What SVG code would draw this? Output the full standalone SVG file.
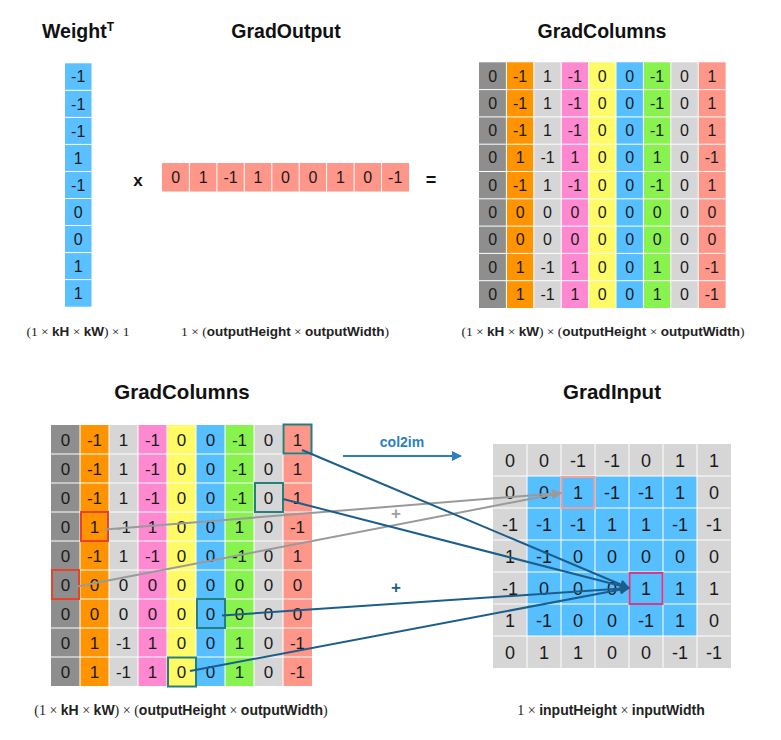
<svg xmlns="http://www.w3.org/2000/svg" width="781" height="740" viewBox="0 0 781 740">
<defs>
<style>
.ttl{font-family:"Liberation Sans",Arial,sans-serif;font-weight:bold;fill:#111;text-anchor:middle}
.n{font-family:"Liberation Sans",Arial,sans-serif;fill:#1a1a1a;text-anchor:middle}
.n16{font-size:16px}
.n17{font-size:17px}
.n18{font-size:18px}
.sep{stroke:#fff;stroke-width:1}
.fm{font-family:"Liberation Serif","Times New Roman",serif;fill:#222;text-anchor:middle}
.fb{font-family:"Liberation Sans",Arial,sans-serif;font-weight:bold}
.teal{fill:none;stroke:#24807c;stroke-width:2}
.red{fill:none;stroke:#e8412c;stroke-width:2}
.bl{stroke:#1b5e8c;stroke-width:2;fill:none}
.gr{stroke:#9a9a9a;stroke-width:2;fill:none}
</style>
<marker id="ab" viewBox="0 0 10 10" refX="9" refY="5" markerWidth="5" markerHeight="5" orient="auto"><path d="M0,0 L10,5 L0,10 z" fill="#1b5e8c"/></marker>
<marker id="ag" viewBox="0 0 10 10" refX="9" refY="5" markerWidth="5" markerHeight="5" orient="auto"><path d="M0,0 L10,5 L0,10 z" fill="#9a9a9a"/></marker>
<marker id="ac" viewBox="0 0 10 10" refX="9" refY="5" markerWidth="5" markerHeight="5" orient="auto"><path d="M0,0 L10,5 L0,10 z" fill="#2b7fc1"/></marker>
</defs>
<rect width="781" height="740" fill="#fff"/>

<!-- Weight^T -->
<g id="weight">
<text class="ttl" x="78" y="38" font-size="19.5">Weight<tspan font-size="12" dy="-7">T</tspan></text>
<rect x="65" y="63.3" width="26.5" height="243.4" fill="#5ac0ff"/>
<g class="sep">
<line x1="65" y1="90.3" x2="91.5" y2="90.3"/><line x1="65" y1="117.4" x2="91.5" y2="117.4"/><line x1="65" y1="144.4" x2="91.5" y2="144.4"/><line x1="65" y1="171.5" x2="91.5" y2="171.5"/><line x1="65" y1="198.5" x2="91.5" y2="198.5"/><line x1="65" y1="225.5" x2="91.5" y2="225.5"/><line x1="65" y1="252.6" x2="91.5" y2="252.6"/><line x1="65" y1="279.6" x2="91.5" y2="279.6"/>
</g>
<g class="n n16">
<text x="78.2" y="82.4">-1</text><text x="78.2" y="109.5">-1</text><text x="78.2" y="136.5">-1</text><text x="78.2" y="163.5">1</text><text x="78.2" y="190.6">-1</text><text x="78.2" y="217.6">0</text><text x="78.2" y="244.7">0</text><text x="78.2" y="271.7">1</text><text x="78.2" y="298.8">1</text>
</g>
<text class="fm" x="78" y="336" font-size="13.5">(1 × <tspan class="fb">kH</tspan> × <tspan class="fb">kW</tspan>) × 1</text>
</g>

<text class="ttl" x="138" y="186" font-size="17">x</text>

<!-- GradOutput -->
<g id="gradoutput">
<text class="ttl" x="286" y="38" font-size="19.5">GradOutput</text>
<rect x="162" y="163" width="247" height="28.5" fill="#ff968a"/>
<g class="sep">
<line x1="189.4" y1="163" x2="189.4" y2="191.5"/><line x1="216.9" y1="163" x2="216.9" y2="191.5"/><line x1="244.3" y1="163" x2="244.3" y2="191.5"/><line x1="271.8" y1="163" x2="271.8" y2="191.5"/><line x1="299.2" y1="163" x2="299.2" y2="191.5"/><line x1="326.6" y1="163" x2="326.6" y2="191.5"/><line x1="354.1" y1="163" x2="354.1" y2="191.5"/><line x1="381.5" y1="163" x2="381.5" y2="191.5"/>
</g>
<text class="n n16" y="183"><tspan x="175.7">0</tspan><tspan x="203.2">1</tspan><tspan x="230.6">-1</tspan><tspan x="258">1</tspan><tspan x="285.5">0</tspan><tspan x="312.9">0</tspan><tspan x="340.4">1</tspan><tspan x="367.8">0</tspan><tspan x="395.2">-1</tspan></text>
<text class="fm" x="285" y="336" font-size="13.5">1 × (<tspan class="fb">outputHeight</tspan> × <tspan class="fb">outputWidth</tspan>)</text>
</g>

<text class="ttl" x="431" y="186" font-size="18">=</text>

<!-- GradColumns (top) -->
<g id="gradcolumns-top">
<text class="ttl" x="602" y="38" font-size="19.5">GradColumns</text>
<rect x="479" y="62.3" width="27.4" height="245.7" fill="#8e8e8e"/>
<rect x="506.4" y="62.3" width="27.4" height="245.7" fill="#ff9300"/>
<rect x="533.8" y="62.3" width="27.4" height="245.7" fill="#d6d6d6"/>
<rect x="561.2" y="62.3" width="27.4" height="245.7" fill="#ff89d0"/>
<rect x="588.6" y="62.3" width="27.4" height="245.7" fill="#fffb66"/>
<rect x="616" y="62.3" width="27.4" height="245.7" fill="#56bfff"/>
<rect x="643.4" y="62.3" width="27.4" height="245.7" fill="#88f24f"/>
<rect x="670.8" y="62.3" width="27.4" height="245.7" fill="#d6d6d6"/>
<rect x="698.2" y="62.3" width="27.4" height="245.7" fill="#ff968a"/>
<g class="sep">
<line x1="506.4" y1="62.3" x2="506.4" y2="308"/><line x1="533.8" y1="62.3" x2="533.8" y2="308"/><line x1="561.2" y1="62.3" x2="561.2" y2="308"/><line x1="588.6" y1="62.3" x2="588.6" y2="308"/><line x1="616" y1="62.3" x2="616" y2="308"/><line x1="643.4" y1="62.3" x2="643.4" y2="308"/><line x1="670.8" y1="62.3" x2="670.8" y2="308"/><line x1="698.2" y1="62.3" x2="698.2" y2="308"/>
<line x1="479" y1="89.6" x2="725.6" y2="89.6"/><line x1="479" y1="116.9" x2="725.6" y2="116.9"/><line x1="479" y1="144.2" x2="725.6" y2="144.2"/><line x1="479" y1="171.5" x2="725.6" y2="171.5"/><line x1="479" y1="198.8" x2="725.6" y2="198.8"/><line x1="479" y1="226.1" x2="725.6" y2="226.1"/><line x1="479" y1="253.4" x2="725.6" y2="253.4"/><line x1="479" y1="280.7" x2="725.6" y2="280.7"/>
</g>
<g class="n n16">
<text y="81.5"><tspan x="492.7">0</tspan><tspan x="520.1">-1</tspan><tspan x="547.5">1</tspan><tspan x="574.9">-1</tspan><tspan x="602.3">0</tspan><tspan x="629.7">0</tspan><tspan x="657.1">-1</tspan><tspan x="684.5">0</tspan><tspan x="711.9">1</tspan></text>
<text y="108.8"><tspan x="492.7">0</tspan><tspan x="520.1">-1</tspan><tspan x="547.5">1</tspan><tspan x="574.9">-1</tspan><tspan x="602.3">0</tspan><tspan x="629.7">0</tspan><tspan x="657.1">-1</tspan><tspan x="684.5">0</tspan><tspan x="711.9">1</tspan></text>
<text y="136.1"><tspan x="492.7">0</tspan><tspan x="520.1">-1</tspan><tspan x="547.5">1</tspan><tspan x="574.9">-1</tspan><tspan x="602.3">0</tspan><tspan x="629.7">0</tspan><tspan x="657.1">-1</tspan><tspan x="684.5">0</tspan><tspan x="711.9">1</tspan></text>
<text y="163.4"><tspan x="492.7">0</tspan><tspan x="520.1">1</tspan><tspan x="547.5">-1</tspan><tspan x="574.9">1</tspan><tspan x="602.3">0</tspan><tspan x="629.7">0</tspan><tspan x="657.1">1</tspan><tspan x="684.5">0</tspan><tspan x="711.9">-1</tspan></text>
<text y="190.7"><tspan x="492.7">0</tspan><tspan x="520.1">-1</tspan><tspan x="547.5">1</tspan><tspan x="574.9">-1</tspan><tspan x="602.3">0</tspan><tspan x="629.7">0</tspan><tspan x="657.1">-1</tspan><tspan x="684.5">0</tspan><tspan x="711.9">1</tspan></text>
<text y="218"><tspan x="492.7">0</tspan><tspan x="520.1">0</tspan><tspan x="547.5">0</tspan><tspan x="574.9">0</tspan><tspan x="602.3">0</tspan><tspan x="629.7">0</tspan><tspan x="657.1">0</tspan><tspan x="684.5">0</tspan><tspan x="711.9">0</tspan></text>
<text y="245.3"><tspan x="492.7">0</tspan><tspan x="520.1">0</tspan><tspan x="547.5">0</tspan><tspan x="574.9">0</tspan><tspan x="602.3">0</tspan><tspan x="629.7">0</tspan><tspan x="657.1">0</tspan><tspan x="684.5">0</tspan><tspan x="711.9">0</tspan></text>
<text y="272.6"><tspan x="492.7">0</tspan><tspan x="520.1">1</tspan><tspan x="547.5">-1</tspan><tspan x="574.9">1</tspan><tspan x="602.3">0</tspan><tspan x="629.7">0</tspan><tspan x="657.1">1</tspan><tspan x="684.5">0</tspan><tspan x="711.9">-1</tspan></text>
<text y="299.9"><tspan x="492.7">0</tspan><tspan x="520.1">1</tspan><tspan x="547.5">-1</tspan><tspan x="574.9">1</tspan><tspan x="602.3">0</tspan><tspan x="629.7">0</tspan><tspan x="657.1">1</tspan><tspan x="684.5">0</tspan><tspan x="711.9">-1</tspan></text>
</g>
<text class="fm" x="603" y="336" font-size="13.5">(1 × <tspan class="fb">kH</tspan> × <tspan class="fb">kW</tspan>) × (<tspan class="fb">outputHeight</tspan> × <tspan class="fb">outputWidth</tspan>)</text>
</g>

<!-- GradColumns (bottom) -->
<g id="gradcolumns-bottom">
<text class="ttl" x="182" y="399" font-size="20.5">GradColumns</text>
<rect x="51" y="425" width="29" height="261" fill="#8e8e8e"/>
<rect x="80" y="425" width="29" height="261" fill="#ff9300"/>
<rect x="109" y="425" width="29" height="261" fill="#d6d6d6"/>
<rect x="138" y="425" width="29" height="261" fill="#ff89d0"/>
<rect x="167" y="425" width="29" height="261" fill="#fffb66"/>
<rect x="196" y="425" width="29" height="261" fill="#56bfff"/>
<rect x="225" y="425" width="29" height="261" fill="#88f24f"/>
<rect x="254" y="425" width="29" height="261" fill="#d6d6d6"/>
<rect x="283" y="425" width="29" height="261" fill="#ff968a"/>
<g class="sep">
<line x1="80" y1="425" x2="80" y2="686"/><line x1="109" y1="425" x2="109" y2="686"/><line x1="138" y1="425" x2="138" y2="686"/><line x1="167" y1="425" x2="167" y2="686"/><line x1="196" y1="425" x2="196" y2="686"/><line x1="225" y1="425" x2="225" y2="686"/><line x1="254" y1="425" x2="254" y2="686"/><line x1="283" y1="425" x2="283" y2="686"/>
<line x1="51" y1="454" x2="312" y2="454"/><line x1="51" y1="483" x2="312" y2="483"/><line x1="51" y1="512" x2="312" y2="512"/><line x1="51" y1="541" x2="312" y2="541"/><line x1="51" y1="570" x2="312" y2="570"/><line x1="51" y1="599" x2="312" y2="599"/><line x1="51" y1="628" x2="312" y2="628"/><line x1="51" y1="657" x2="312" y2="657"/>
</g>
<g class="n n17">
<text y="445.5"><tspan x="65.5">0</tspan><tspan x="94.5">-1</tspan><tspan x="123.5">1</tspan><tspan x="152.5">-1</tspan><tspan x="181.5">0</tspan><tspan x="210.5">0</tspan><tspan x="239.5">-1</tspan><tspan x="268.5">0</tspan><tspan x="297.5">1</tspan></text>
<text y="474.5"><tspan x="65.5">0</tspan><tspan x="94.5">-1</tspan><tspan x="123.5">1</tspan><tspan x="152.5">-1</tspan><tspan x="181.5">0</tspan><tspan x="210.5">0</tspan><tspan x="239.5">-1</tspan><tspan x="268.5">0</tspan><tspan x="297.5">1</tspan></text>
<text y="503.5"><tspan x="65.5">0</tspan><tspan x="94.5">-1</tspan><tspan x="123.5">1</tspan><tspan x="152.5">-1</tspan><tspan x="181.5">0</tspan><tspan x="210.5">0</tspan><tspan x="239.5">-1</tspan><tspan x="268.5">0</tspan><tspan x="297.5">1</tspan></text>
<text y="532.5"><tspan x="65.5">0</tspan><tspan x="94.5">1</tspan><tspan x="123.5">-1</tspan><tspan x="152.5">1</tspan><tspan x="181.5">0</tspan><tspan x="210.5">0</tspan><tspan x="239.5">1</tspan><tspan x="268.5">0</tspan><tspan x="297.5">-1</tspan></text>
<text y="561.5"><tspan x="65.5">0</tspan><tspan x="94.5">-1</tspan><tspan x="123.5">1</tspan><tspan x="152.5">-1</tspan><tspan x="181.5">0</tspan><tspan x="210.5">0</tspan><tspan x="239.5">-1</tspan><tspan x="268.5">0</tspan><tspan x="297.5">1</tspan></text>
<text y="590.5"><tspan x="65.5">0</tspan><tspan x="94.5">0</tspan><tspan x="123.5">0</tspan><tspan x="152.5">0</tspan><tspan x="181.5">0</tspan><tspan x="210.5">0</tspan><tspan x="239.5">0</tspan><tspan x="268.5">0</tspan><tspan x="297.5">0</tspan></text>
<text y="619.5"><tspan x="65.5">0</tspan><tspan x="94.5">0</tspan><tspan x="123.5">0</tspan><tspan x="152.5">0</tspan><tspan x="181.5">0</tspan><tspan x="210.5">0</tspan><tspan x="239.5">0</tspan><tspan x="268.5">0</tspan><tspan x="297.5">0</tspan></text>
<text y="648.5"><tspan x="65.5">0</tspan><tspan x="94.5">1</tspan><tspan x="123.5">-1</tspan><tspan x="152.5">1</tspan><tspan x="181.5">0</tspan><tspan x="210.5">0</tspan><tspan x="239.5">1</tspan><tspan x="268.5">0</tspan><tspan x="297.5">-1</tspan></text>
<text y="677.5"><tspan x="65.5">0</tspan><tspan x="94.5">1</tspan><tspan x="123.5">-1</tspan><tspan x="152.5">1</tspan><tspan x="181.5">0</tspan><tspan x="210.5">0</tspan><tspan x="239.5">1</tspan><tspan x="268.5">0</tspan><tspan x="297.5">-1</tspan></text>
</g>
<rect class="teal" x="283.5" y="424.5" width="28" height="29"/>
<rect class="teal" x="255" y="483" width="28" height="29"/>
<rect class="teal" x="197" y="599" width="28" height="29"/>
<rect class="teal" x="168" y="657.5" width="28" height="29"/>
<rect class="red" x="81" y="512" width="27" height="29"/>
<rect class="red" x="52" y="570" width="27" height="29"/>
<text class="fm" x="181" y="715" font-size="14">(1 × <tspan class="fb">kH</tspan> × <tspan class="fb">kW</tspan>) × (<tspan class="fb">outputHeight</tspan> × <tspan class="fb">outputWidth</tspan>)</text>
</g>

<!-- GradInput -->
<g id="gradinput">
<text class="ttl" x="612" y="399" font-size="20.5">GradInput</text>
<rect x="493" y="444" width="238" height="224" fill="#d6d6d6"/>
<rect x="527" y="476" width="170" height="160" fill="#56bfff"/>
<g class="sep">
<line x1="527" y1="444" x2="527" y2="668"/><line x1="561" y1="444" x2="561" y2="668"/><line x1="595" y1="444" x2="595" y2="668"/><line x1="629" y1="444" x2="629" y2="668"/><line x1="663" y1="444" x2="663" y2="668"/><line x1="697" y1="444" x2="697" y2="668"/>
<line x1="493" y1="476" x2="731" y2="476"/><line x1="493" y1="508" x2="731" y2="508"/><line x1="493" y1="540" x2="731" y2="540"/><line x1="493" y1="572" x2="731" y2="572"/><line x1="493" y1="604" x2="731" y2="604"/><line x1="493" y1="636" x2="731" y2="636"/>
</g>
<g class="n n18">
<text y="466.5"><tspan x="510">0</tspan><tspan x="544">0</tspan><tspan x="578">-1</tspan><tspan x="612">-1</tspan><tspan x="646">0</tspan><tspan x="680">1</tspan><tspan x="714">1</tspan></text>
<text y="498.5"><tspan x="510">0</tspan><tspan x="544">0</tspan><tspan x="578">1</tspan><tspan x="612">-1</tspan><tspan x="646">-1</tspan><tspan x="680">1</tspan><tspan x="714">0</tspan></text>
<text y="530.5"><tspan x="510">-1</tspan><tspan x="544">-1</tspan><tspan x="578">-1</tspan><tspan x="612">1</tspan><tspan x="646">1</tspan><tspan x="680">-1</tspan><tspan x="714">-1</tspan></text>
<text y="562.5"><tspan x="510">1</tspan><tspan x="544">-1</tspan><tspan x="578">0</tspan><tspan x="612">0</tspan><tspan x="646">0</tspan><tspan x="680">0</tspan><tspan x="714">0</tspan></text>
<text y="594.5"><tspan x="510">-1</tspan><tspan x="544">0</tspan><tspan x="578">0</tspan><tspan x="612">0</tspan><tspan x="646">1</tspan><tspan x="680">1</tspan><tspan x="714">1</tspan></text>
<text y="626.5"><tspan x="510">1</tspan><tspan x="544">-1</tspan><tspan x="578">0</tspan><tspan x="612">0</tspan><tspan x="646">-1</tspan><tspan x="680">1</tspan><tspan x="714">0</tspan></text>
<text y="658.5"><tspan x="510">0</tspan><tspan x="544">1</tspan><tspan x="578">1</tspan><tspan x="612">0</tspan><tspan x="646">0</tspan><tspan x="680">-1</tspan><tspan x="714">-1</tspan></text>
</g>
<rect x="561.5" y="477" width="33" height="31" fill="none" stroke="#f4a09a" stroke-width="2"/>
<rect x="629.5" y="573" width="33" height="31" fill="none" stroke="#d63c86" stroke-width="2"/>
<text class="fm" x="611" y="715" font-size="14">1 × <tspan class="fb">inputHeight</tspan> × <tspan class="fb">inputWidth</tspan></text>
</g>

<!-- connectors -->
<g id="connectors">
<text x="402" y="447" font-family="Liberation Sans, Arial, sans-serif" font-weight="bold" font-size="14" fill="#2b7fc1" text-anchor="middle">col2im</text>
<line x1="343" y1="456" x2="461" y2="456" stroke="#2b7fc1" stroke-width="2" marker-end="url(#ac)"/>
<text x="396" y="519" font-family="Liberation Sans, Arial, sans-serif" font-weight="bold" font-size="17" fill="#a0a0a0" text-anchor="middle">+</text>
<text x="396" y="593" font-family="Liberation Sans, Arial, sans-serif" font-weight="bold" font-size="17" fill="#1b5e8c" text-anchor="middle">+</text>
<line class="gr" x1="105" y1="529.5" x2="561" y2="493" marker-end="url(#ag)"/>
<line class="gr" x1="77" y1="586.5" x2="561" y2="493" marker-end="url(#ag)"/>
<line class="bl" x1="302" y1="450" x2="629" y2="588" marker-end="url(#ab)"/>
<line class="bl" x1="283" y1="499" x2="629" y2="588" marker-end="url(#ab)"/>
<line class="bl" x1="222" y1="615.5" x2="629" y2="588" marker-end="url(#ab)"/>
<line class="bl" x1="190" y1="671" x2="629" y2="588" marker-end="url(#ab)"/>
</g>
</svg>
